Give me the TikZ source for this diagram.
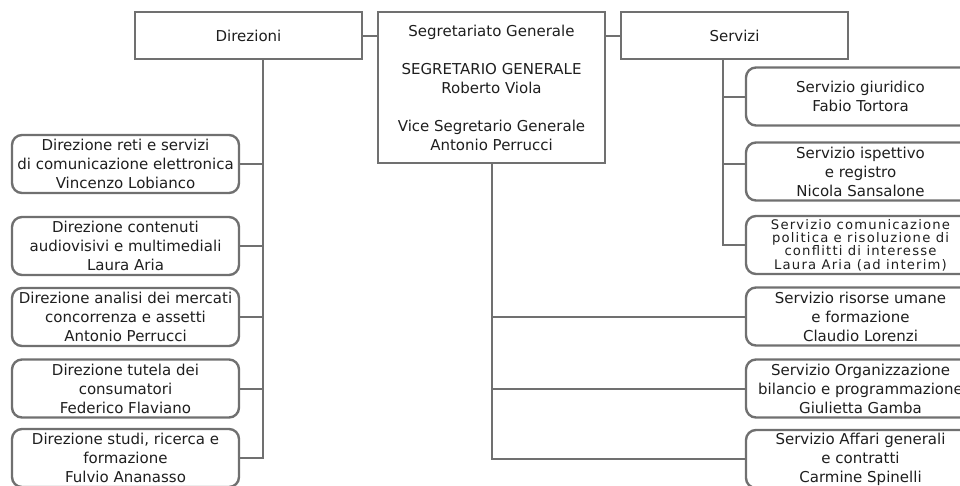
\documentclass[tikz,border=0pt]{standalone}
\usepackage{fontspec}
\setmainfont{DejaVu Sans}
\newfontfamily\spacedfont[LetterSpace=9]{DejaVu Sans}
\definecolor{linegray}{RGB}{112,112,112}
\definecolor{textgray}{RGB}{30,30,30}

\begin{document}
\begin{tikzpicture}[x=1pt,y=-1pt,
  topbox/.style={draw=linegray, line width=2.4pt, rectangle, inner sep=0pt,
    minimum width=227pt, align=center, text=textgray,
    font=\fontsize{15}{19}\selectfont},
  unitbox/.style={topbox, rounded corners=10pt, minimum height=58pt},
  link/.style={draw=linegray, line width=2pt}]

\useasboundingbox (0,0) rectangle (960,485);

% Top row
\node[topbox, minimum height=47pt] (direzioni) at (248.5,35.5) {Direzioni};
\node[topbox, minimum height=151pt] (segretariato) at (491.5,87.5)
  {Segretariato Generale\\[19pt]SEGRETARIO GENERALE\\Roberto Viola\\[19pt]Vice Segretario Generale\\Antonio Perrucci};
\node[topbox, minimum height=47pt] (servizi) at (734.5,35.5) {Servizi};

\draw[link] (direzioni.east) -- (direzioni.east -| segretariato.west);
\draw[link] (segretariato.east |- servizi.west) -- (servizi.west);

% Direzioni
\node[unitbox] (dir1) at (125.5,164) {Direzione reti e servizi\\di comunicazione elettronica\\Vincenzo Lobianco};
\node[unitbox] (dir2) at (125.5,246) {Direzione contenuti\\audiovisivi e multimediali\\Laura Aria};
\node[unitbox] (dir3) at (125.5,317) {Direzione analisi dei mercati\\concorrenza e assetti\\Antonio Perrucci};
\node[unitbox] (dir4) at (125.5,388.5) {Direzione tutela dei\\consumatori\\Federico Flaviano};
\node[unitbox] (dir5) at (125.5,458) {Direzione studi, ricerca e\\formazione\\Fulvio Ananasso};

\coordinate (dtrunk) at (263,59);
\foreach \i in {1,...,5}
  \draw[link] (dtrunk) |- (dir\i.east);

% Servizi
\node[unitbox, minimum width=229pt] (serv1) at (860.5,96.5) {Servizio giuridico\\Fabio Tortora};
\node[unitbox, minimum width=229pt] (serv2) at (860.5,171.5) {Servizio ispettivo\\e registro\\Nicola Sansalone};
\node[unitbox, minimum width=229pt, font={\spacedfont\fontsize{13.2}{13.4}\selectfont}] (serv3) at (860.5,245)
  {Servizio comunicazione\\politica e risoluzione di\\conflitti di interesse\\Laura Aria (ad interim)};
\node[unitbox, minimum width=229pt] (serv4) at (860.5,316.5) {Servizio risorse umane\\e formazione\\Claudio Lorenzi};
\node[unitbox, minimum width=229pt] (serv5) at (860.5,388.5) {Servizio Organizzazione\\bilancio e programmazione\\Giulietta Gamba};
\node[unitbox, minimum width=229pt] (serv6) at (860.5,459) {Servizio Affari generali\\e contratti\\Carmine Spinelli};

\coordinate (strunk) at (723,59);
\draw[link] (strunk) |- (serv1.west);
\draw[link] (strunk) |- ([yshift=8pt]serv2.west);
\draw[link] (strunk) |- (serv3.west);

% Segretariato
\foreach \i in {4,5,6}
  \draw[link] (segretariato.south) |- (serv\i.west);

\end{tikzpicture}
\end{document}
